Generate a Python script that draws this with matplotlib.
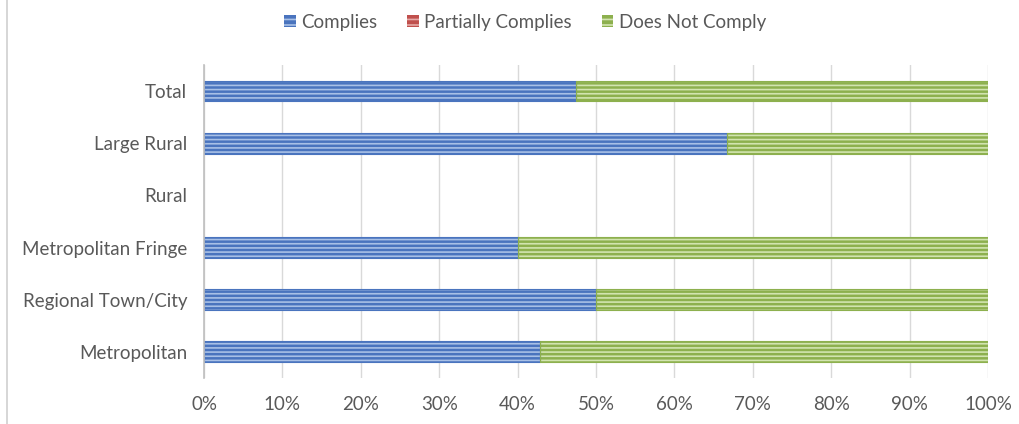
import matplotlib
matplotlib.use('Agg')
import matplotlib.pyplot as plt
import matplotlib.lines as mlines
import numpy as np

categories = ["Metropolitan", "Regional Town/City", "Metropolitan Fringe", "Rural", "Large Rural", "Total"]
complies = [42.9, 50.0, 40.0, 0.0, 66.7, 47.4]
partially = [0.0, 0.0, 0.0, 0.0, 0.0, 0.0]
not_comply = [57.1, 50.0, 60.0, 0.0, 33.3, 52.6]
series_names = ["Complies", "Partially Complies", "Does Not Comply"]

plt.rcParams['font.family'] = ['Lato', 'DejaVu Sans']
plt.rcParams['hatch.linewidth'] = 1.2
text_color = "#595959"

fig = plt.figure(figsize=(10.2, 4.24), dpi=100)
ax = fig.add_axes([0.2, 0.1085, 0.7686, 0.7385])

y = np.arange(len(categories))
styles = [("#4A74BE", "#A8C0E6"), ("#C0504D", "#E6A9A7"), ("#8DB04E", "#D2E4B0")]
left = np.zeros(len(categories))
handles = []
for vals, name, (face, stripe) in zip([complies, partially, not_comply], series_names, styles):
    vals = np.array(vals)
    keep = vals > 0
    ax.barh(y[keep], vals[keep], left=left[keep], height=0.4, color=face, edgecolor=stripe,
            hatch="----", linewidth=0, zorder=3)
    ax.barh(y[keep], vals[keep], left=left[keep], height=0.4, color="none", edgecolor=face,
            linewidth=0.8, zorder=4)
    left += vals
    handles.append(plt.Rectangle((0, 0), 1, 1, facecolor=face, edgecolor=stripe,
                                 hatch="---", linewidth=0))

ax.set_xlim(0, 100)
ax.set_ylim(-0.5, 5.5)
ax.set_xticks(np.arange(0, 101, 10))
ax.set_xticklabels([f"{v}%" for v in range(0, 101, 10)])
ax.set_yticks(y)
ax.set_yticklabels(categories)
ax.tick_params(axis="both", length=0, labelsize=13.5, colors=text_color)
ax.tick_params(axis="x", pad=13)
ax.tick_params(axis="y", pad=12)
ax.grid(axis="x", color="#D9D9D9", linewidth=1, zorder=0)
for s in ["top", "right", "bottom"]:
    ax.spines[s].set_visible(False)
ax.spines["left"].set_color("#BFBFBF")
ax.spines["left"].set_linewidth(1.2)
ax.spines["left"].set_zorder(5)

fig.legend(handles, series_names, loc="center", bbox_to_anchor=(0.515, 0.948), ncol=3,
           frameon=False, fontsize=13.5, labelcolor=text_color, handlelength=0.6,
           handleheight=0.6, handletextpad=0.3, columnspacing=1.6)

fig.add_artist(mlines.Line2D([7 / 1020, 7 / 1020], [0, 1], color="#D0D0D0", linewidth=1.2,
                             transform=fig.transFigure))

fig.savefig("out.png", dpi=100)
